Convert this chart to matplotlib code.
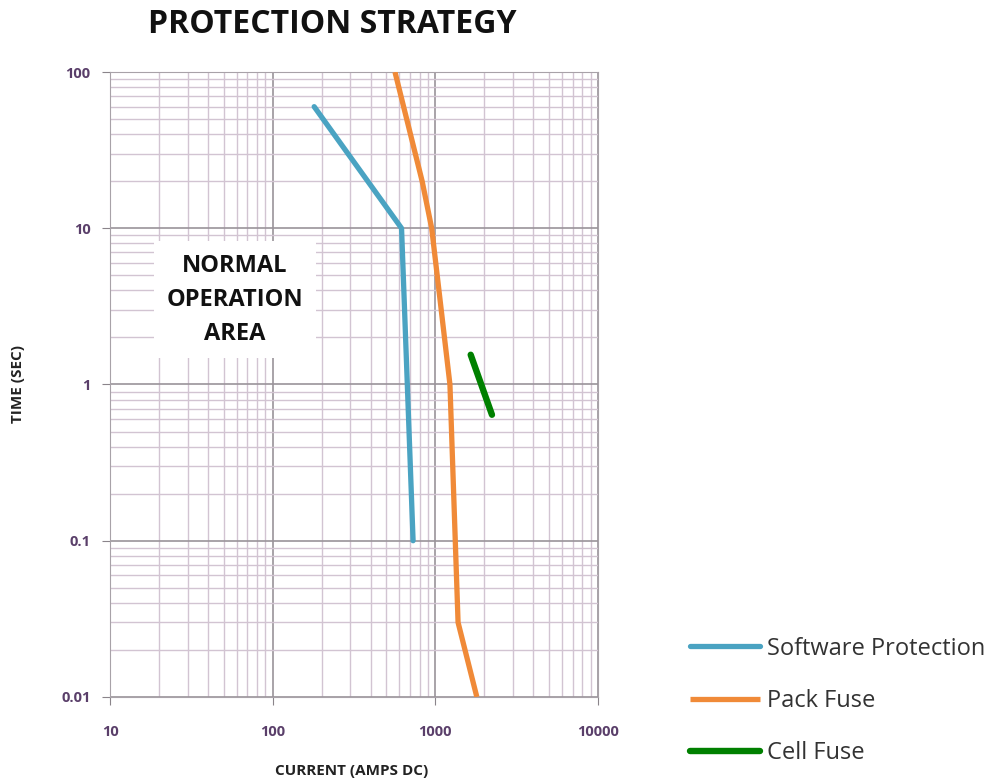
import numpy as np
import matplotlib.pyplot as plt
from matplotlib.ticker import FixedLocator, FixedFormatter, LogLocator, NullFormatter

# data (current in A, time in s)
sw_current = [180, 620, 730]
sw_time = [60, 10, 0.1]

pack_current = [565, 830, 950, 1230, 1380, 1800]
pack_time = [100, 20, 10, 1, 0.03, 0.01]

cell_current = [1650, 2230]
cell_time = [1.55, 0.64]

x_ticks = [10, 100, 1000, 10000]
x_labels = ['10', '100', '1000', '10000']
y_ticks = [0.01, 0.1, 1, 10, 100]
y_labels = ['0.01', '0.1', '1', '10', '100']

plt.rcParams['font.family'] = ['Open Sans', 'DejaVu Sans']

fig = plt.figure(figsize=(9.91, 7.81), dpi=100)
ax = fig.add_axes([0.111, 0.1076, 0.4924, 0.8002])

ax.plot(sw_current, sw_time, color='#4aa3c2', lw=3.8, label='Software Protection', solid_capstyle='round', zorder=4)
ax.plot(pack_current, pack_time, color='#f08a38', lw=3.8, label='Pack Fuse', solid_capstyle='butt', zorder=4)
ax.plot(cell_current, cell_time, color='#008000', lw=4.6, label='Cell Fuse', solid_capstyle='round', zorder=4)

ax.set_xscale('log')
ax.set_yscale('log')
ax.set_xlim(10, 10000)
ax.set_ylim(0.01, 100)

ax.xaxis.set_major_locator(FixedLocator(x_ticks))
ax.xaxis.set_major_formatter(FixedFormatter(x_labels))
ax.yaxis.set_major_locator(FixedLocator(y_ticks))
ax.yaxis.set_major_formatter(FixedFormatter(y_labels))
ax.xaxis.set_minor_locator(LogLocator(base=10, subs=np.arange(2, 10)))
ax.yaxis.set_minor_locator(LogLocator(base=10, subs=np.arange(2, 10)))
ax.xaxis.set_minor_formatter(NullFormatter())
ax.yaxis.set_minor_formatter(NullFormatter())

ax.grid(which='minor', color='#d2c4d2', lw=1.0)
ax.grid(which='major', color='#9a949a', lw=1.2)
ax.set_axisbelow(True)

for s in ax.spines.values():
    s.set_color('#a8a2a8')
ax.tick_params(which='major', length=6, color='#8a848a', labelsize=10.5, labelcolor='#5a3f6a')
ax.tick_params(axis='x', pad=14)
ax.tick_params(axis='y', pad=8)
ax.tick_params(which='minor', length=0)
for lab in ax.get_xticklabels() + ax.get_yticklabels():
    lab.set_fontweight('bold')

ax.set_xlabel('CURRENT (AMPS DC)', fontsize=11, fontweight='bold', color='#222222', va='center')
ax.xaxis.set_label_coords(0.495, -0.118)
ax.set_ylabel('TIME (SEC)', fontsize=11, fontweight='bold', color='#222222', va='center')
ax.yaxis.set_label_coords(-0.188, 0.5)

fig.text(0.335, 0.968, 'PROTECTION STRATEGY', ha='center', va='center',
         fontsize=23, fontweight='bold', color='#111111')

fig.text(0.237, 0.616, 'NORMAL\nOPERATION\nAREA', ha='center', va='center',
         fontsize=17, fontweight='bold', color='#111111', linespacing=1.55, zorder=3,
         bbox=dict(facecolor='white', edgecolor='none', pad=9))

leg = fig.legend(loc='upper left', bbox_to_anchor=(0.675, 0.212), frameon=False,
                 fontsize=17, handlelength=2.95, labelspacing=1.2, handletextpad=0.3)
for t in leg.get_texts():
    t.set_color('#333333')

fig.savefig('out.png', dpi=100)
